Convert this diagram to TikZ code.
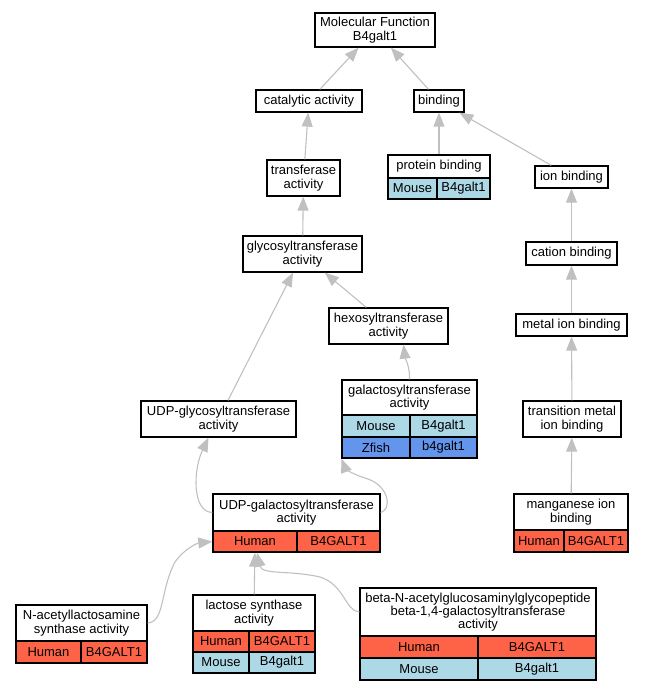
\documentclass[tikz,border=0pt]{standalone}
\usepackage{fontspec}
\setmainfont{Liberation Sans}
\usetikzlibrary{arrows.meta,calc}
\definecolor{edgec}{RGB}{192,192,192}
\definecolor{human}{RGB}{255,99,71}
\definecolor{mouse}{RGB}{173,216,230}
\definecolor{zfish}{RGB}{100,149,237}
\newcommand\bx[7][white]{\node[box,fill=#1,minimum width={#5-#3},minimum height={#6-#4}] (#2) at ({(#3+#5)/2},{(#4+#6)/2}) {#7};}
\tikzset{
  box/.style={draw=black, line width=1.3pt, inner sep=0pt, align=center, text=black, font=\fontsize{13}{13.3}\selectfont},
  tipst/.tip={Triangle[length=14pt, width=11pt]},
  conn/.style={draw=edgec, line width=1.1pt, -tipst},
}
\begin{document}
\begin{tikzpicture}[x=1pt,y=-1pt]
\useasboundingbox (0,0) rectangle (645,691);
% plain boxes
\bx{mf}{315}{13}{435}{47}{Molecular Function\\B4galt1}
\bx{cat}{256}{90}{362}{112}{catalytic activity}
\bx{bind}{414}{90}{464}{112}{binding}
\bx{trans}{267}{160}{340}{196}{transferase\\activity}
\bx{ion}{535}{166}{608}{188}{ion binding}
\bx{glyco}{243}{236}{362}{272}{glycosyltransferase\\activity}
\bx{cation}{526}{242}{617}{265}{cation binding}
\bx{hexo}{329}{308}{448}{344}{hexosyltransferase\\activity}
\bx{metal}{516}{314}{627}{336}{metal ion binding}
\bx{udpglc}{141}{401}{296}{437}{UDP-glycosyltransferase\\activity}
\bx{trm}{523}{401}{621}{437}{transition metal\\ion binding}
% protein binding
\bx{pbh}{388}{155}{490}{178}{protein binding}
\bx[mouse]{pba}{388}{178}{437}{199}{Mouse}
\bx[mouse]{pbb}{437}{178}{490}{199}{B4galt1}
% galactosyltransferase
\bx{galh}{342}{380}{477}{415}{galactosyltransferase\\activity}
\bx[mouse]{galma}{342}{415}{410}{437}{Mouse}
\bx[mouse]{galmb}{410}{415}{477}{437}{B4galt1}
\bx[zfish]{galza}{342}{437}{410}{458}{Zfish}
\bx[zfish]{galzb}{410}{437}{477}{458}{b4galt1}
% UDP-galactosyltransferase
\bx{ugh}{213}{494}{380}{531}{UDP-galactosyltransferase\\activity}
\bx[human]{uga}{213}{531}{297}{552}{Human}
\bx[human]{ugb}{297}{531}{380}{552}{B4GALT1}
% manganese
\bx{mnh}{514}{494}{628}{530}{manganese ion\\binding}
\bx[human]{mna}{514}{530}{564}{552}{Human}
\bx[human]{mnb}{564}{530}{628}{552}{B4GALT1}
% N-acetyllactosamine
\bx{nach}{16}{605}{147}{641}{N-acetyllactosamine\\synthase activity}
\bx[human]{naca}{16}{641}{81}{663}{Human}
\bx[human]{nacb}{81}{641}{147}{663}{B4GALT1}
% lactose synthase
\bx{lach}{193}{595}{315}{631}{lactose synthase\\activity}
\bx[human]{lacha}{193}{631}{249}{652}{Human}
\bx[human]{lachb}{249}{631}{315}{652}{B4GALT1}
\bx[mouse]{lacma}{193}{652}{249}{673}{Mouse}
\bx[mouse]{lacmb}{249}{652}{315}{673}{B4galt1}
% beta-N
\bx{beth}{360}{588}{596}{636}{beta-N-acetylglucosaminylglycopeptide\\beta-1,4-galactosyltransferase\\activity}
\bx[human]{betha}{360}{636}{478}{658}{Human}
\bx[human]{bethb}{478}{636}{596}{658}{B4GALT1}
\bx[mouse]{betma}{360}{658}{478}{680}{Mouse}
\bx[mouse]{betmb}{478}{658}{596}{680}{B4galt1}
% connectors
\draw[conn] (cat) -- (mf);
\draw[conn] (bind) -- (mf);
\draw[conn] (trans) -- (cat);
\draw[conn] (pbh) -- (bind);
\draw[conn] (ion) -- (bind);
\draw[conn] (glyco) -- (trans);
\draw[conn] (cation) -- (ion);
\draw[conn] (hexo) -- (glyco);
\draw[conn] (udpglc) -- (glyco);
\draw[conn] (metal) -- (cation);
\draw[conn] (galh.north) .. controls (410,366) and (405,358) .. ($(hexo.south)+(15,0)$);
\draw[conn] (trm) -- (metal);
\draw[conn] (mnh) -- (trm);
\draw[conn] (ugh.west) .. controls (192,512) and (193,470) .. ($(udpglc.south)+(-10,0)$);
\draw[conn] (ugh.east) .. controls (392,510) and (390,485) .. (365,478) .. controls (352,474) and (345,468) .. (galza.south west);
\draw[conn] (nach.east) .. controls (165,622) and (160,590) .. (175,562) .. controls (185,548) and (198,543) .. (uga.west);
\draw[conn] (lach) -- (uga);
\draw[conn] (beth.west) .. controls (345,611) and (345,585) .. (320,577) .. controls (290,570) and (262,575) .. ($(uga.south)+(2,0)$);
\end{tikzpicture}
\end{document}
